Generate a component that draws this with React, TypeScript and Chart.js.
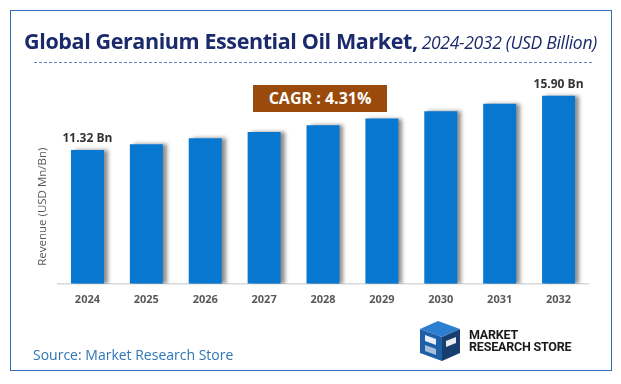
import React, { useEffect, useRef } from "react";
import { Chart, registerables } from "chart.js";

Chart.register(...registerables);

const years = ["2024", "2025", "2026", "2027", "2028", "2029", "2030", "2031", "2032"];
const revenue = [11.32, 11.81, 12.32, 12.85, 13.41, 13.98, 14.59, 15.22, 15.9];
const labelledIdx = [0, 8];
const valueLabels = ["11.32 Bn", "15.90 Bn"];
const titleMain = "Global Geranium Essential Oil Market,";
const titleSub = "2024-2032 (USD Billion)";
const cagrText = "CAGR : 4.31%";
const yTitle = "Revenue (USD Mn/Bn)";
const sourceText = "Source: Market Research Store";

const FONT = "'Open Sans', 'Noto Sans', sans-serif";

const shadowPlugin = {
  id: "barShadow",
  beforeDatasetDraw(chart: any) {
    const ctx = chart.ctx;
    ctx.save();
    ctx.shadowColor = "rgba(0,0,0,0.45)";
    ctx.shadowOffsetX = 4;
    ctx.shadowOffsetY = 0;
    ctx.shadowBlur = 4;
  },
  afterDatasetDraw(chart: any) {
    chart.ctx.restore();
  },
};

const labelPlugin = {
  id: "valueLabels",
  afterDatasetsDraw(chart: any) {
    const ctx = chart.ctx;
    const meta = chart.getDatasetMeta(0);
    ctx.save();
    ctx.font = `bold 12px ${FONT}`;
    ctx.fillStyle = "#333333";
    ctx.textAlign = "center";
    ctx.textBaseline = "bottom";
    labelledIdx.forEach((i, k) => {
      const el = meta.data[i];
      ctx.fillText(valueLabels[k], el.x, el.y - 5);
    });
    // y-axis title, placed slightly below the vertical centre like the reference
    const { left, bottom } = chart.chartArea;
    ctx.translate(left - 15, bottom - 18);
    ctx.rotate(-Math.PI / 2);
    ctx.font = `11.5px ${FONT}`;
    ctx.fillStyle = "#595959";
    ctx.textAlign = "left";
    ctx.textBaseline = "middle";
    ctx.fillText(yTitle, 0, 0);
    ctx.restore();
  },
};

function Logo() {
  return (
    <div style={{ position: "absolute", left: 416, top: 319, display: "flex", alignItems: "center" }}>
      <svg width="48" height="44" viewBox="0 0 48 44">
        <polygon points="4,10 22,2 44,10 26,18" fill="#2C7FD0" />
        <polygon points="4,10 26,18 26,42 4,34" fill="#1E5FA8" />
        <polygon points="26,18 44,10 44,34 26,42" fill="#173E6E" />
        <path d="M9,16 L20,20 L20,26 L9,22 Z" fill="#ffffff" opacity="0.9" />
        <path d="M30,22 L40,18 L40,24 L30,28 Z" fill="#ffffff" opacity="0.9" />
        <path d="M9,26 L20,30 L20,36 L9,32 Z" fill="#ffffff" opacity="0.6" />
      </svg>
      <div style={{ marginLeft: 5, fontFamily: "'Roboto', sans-serif", fontWeight: 700, fontSize: 12.5, lineHeight: "12px", color: "#1a1a1a", letterSpacing: -0.2 }}>
        <div>MARKET</div>
        <div>RESEARCH STORE</div>
      </div>
    </div>
  );
}

export default function App() {
  const canvasRef = useRef<HTMLCanvasElement>(null);

  useEffect(() => {
    document.body.style.margin = "0";
    const chart = new Chart(canvasRef.current!, {
      type: "bar",
      data: {
        labels: years,
        datasets: [
          {
            data: revenue,
            backgroundColor: "#0777D0",
            borderWidth: 0,
            barPercentage: 0.56,
            categoryPercentage: 1,
          },
        ],
      },
      options: {
        animation: false,
        responsive: true,
        maintainAspectRatio: false,
        layout: { padding: { left: 58, right: 33, top: 71, bottom: 69 } },
        plugins: { legend: { display: false }, tooltip: { enabled: false } },
        scales: {
          x: {
            grid: { display: false, drawTicks: false },
            border: { display: true, color: "#D9D9D9", width: 1.5 },
            ticks: {
              color: "#595959",
              font: { family: FONT, size: 11, weight: "bold" },
              padding: 9,
            },
          },
          y: {
            display: false,
            min: 0,
            max: 18,
          },
        },
      },
      plugins: [shadowPlugin, labelPlugin],
    });
    return () => chart.destroy();
  }, []);

  return (
    <div style={{ position: "relative", width: 621, height: 384, background: "#fff", overflow: "hidden" }}>
      <div style={{ position: "absolute", left: 10, top: 10, width: 600, height: 359, border: "1.5px solid #2E6DB4" }} />
      <div style={{ position: "absolute", left: 0, top: 0, width: 621, height: 384 }}>
        <canvas ref={canvasRef} />
      </div>
      <div
        style={{
          position: "absolute",
          left: 0,
          width: 621,
          top: 27,
          textAlign: "center",
          color: "#1B2A6B",
          whiteSpace: "nowrap",
          lineHeight: "28px",
        }}
      >
        <span style={{ fontFamily: FONT, fontWeight: 700, fontSize: 21.5, letterSpacing: -0.4 }}>{titleMain}</span>{" "}
        <span style={{ fontFamily: FONT, fontStyle: "italic", fontSize: 17.5, letterSpacing: -0.3 }}>{titleSub}</span>
      </div>
      <div style={{ position: "absolute", left: 34, top: 62, width: 558, borderTop: "1.5px dashed #5B84C8" }} />
      <div
        style={{
          position: "absolute",
          left: 253,
          top: 85,
          width: 134,
          height: 27,
          background: "#9A4A0A",
          color: "#fff",
          fontFamily: FONT,
          fontWeight: 700,
          fontSize: 16,
          lineHeight: "27px",
          textAlign: "center",
        }}
      >
        {cagrText}
      </div>
      <div style={{ position: "absolute", left: 33, top: 345, fontFamily: FONT, fontSize: 14, color: "#2E75B6" }}>
        {sourceText}
      </div>
      <Logo />
    </div>
  );
}
